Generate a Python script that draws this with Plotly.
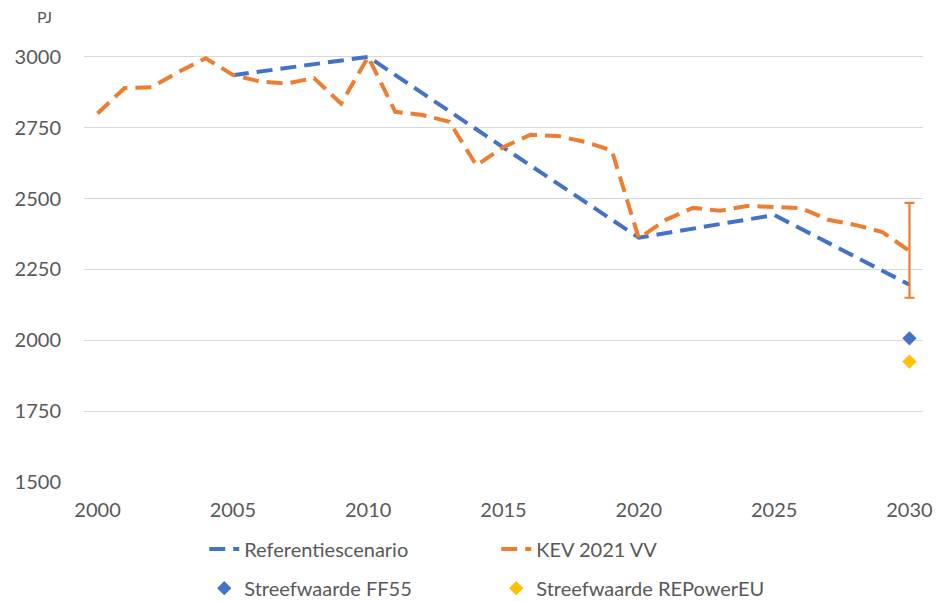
import plotly.graph_objects as go

years_kev = list(range(2000, 2031))
kev_2021_vv = [2800, 2890, 2893, 2947, 2995, 2936, 2913, 2906, 2925, 2835,
               3000, 2806, 2795, 2771, 2617, 2682, 2725, 2721, 2700, 2670,
               2360, 2425, 2467, 2457, 2474, 2470, 2466, 2425, 2407, 2382,
               2315]
kev_err_plus = 170
kev_err_minus = 165

years_ref = [2005, 2010, 2015, 2020, 2025, 2030]
referentiescenario = [2935, 3000, 2680, 2362, 2442, 2196]

target_year = [2030]
streefwaarde_ff55 = [2007]
streefwaarde_repowereu = [1925]

x_ticks = [2000, 2005, 2010, 2015, 2020, 2025, 2030]
y_ticks = [1500, 1750, 2000, 2250, 2500, 2750, 3000]

BLUE = "#4472C4"
ORANGE = "#ED7D31"
YELLOW = "#FFC000"
TXT = "#595959"
FONT = "Lato"
DASH = "16px,8px"

fig = go.Figure()

fig.add_trace(go.Scatter(
    x=years_ref, y=referentiescenario, mode="lines", name="Referentiescenario",
    line=dict(color=BLUE, width=4, dash=DASH), legend="legend"))
fig.add_trace(go.Scatter(
    x=years_kev, y=kev_2021_vv, mode="lines", name="KEV 2021 VV",
    line=dict(color=ORANGE, width=4, dash=DASH), legend="legend"))
fig.add_trace(go.Scatter(
    x=[years_kev[-1]], y=[kev_2021_vv[-1]], mode="markers", showlegend=False,
    marker=dict(size=1, color="rgba(0,0,0,0)"),
    error_y=dict(type="data", array=[kev_err_plus], arrayminus=[kev_err_minus],
                 color=ORANGE, thickness=2.2, width=5, symmetric=False)))
fig.add_trace(go.Scatter(
    x=target_year, y=streefwaarde_ff55, mode="markers", name="Streefwaarde FF55",
    marker=dict(symbol="diamond", size=11, color=BLUE), legend="legend2"))
fig.add_trace(go.Scatter(
    x=target_year, y=streefwaarde_repowereu, mode="markers", name="Streefwaarde REPowerEU",
    marker=dict(symbol="diamond", size=11, color=YELLOW), legend="legend2"))

legend_common = dict(orientation="h", xanchor="left", yanchor="middle",
                     font=dict(family=FONT, size=20, color=TXT),
                     entrywidth=247, entrywidthmode="pixels",
                     bgcolor="rgba(0,0,0,0)")

fig.update_layout(
    width=933, height=593,
    paper_bgcolor="white", plot_bgcolor="white",
    margin=dict(l=75.5, r=17.5, t=46, b=119, autoexpand=False),
    font=dict(family=FONT, size=20, color=TXT),
    xaxis=dict(range=[1999.5, 2030.5], tickvals=x_ticks, showgrid=False,
               zeroline=False, showline=False, ticks="",
               tickfont=dict(family=FONT, size=20, color=TXT),
               ticklabelstandoff=14),
    yaxis=dict(range=[1500, 3010], tickvals=y_ticks, showgrid=True,
               gridcolor="#D9D9D9", gridwidth=1, zeroline=False, showline=False,
               ticks="", tickfont=dict(family=FONT, size=20, color=TXT),
               ticklabelstandoff=22),
    legend=dict(x=0.1433, y=-0.1565, **legend_common),
    legend2=dict(x=0.1433, y=-0.248, **legend_common),
    annotations=[dict(text="PJ", xref="paper", yref="paper", x=-0.047, y=1.088,
                      xanchor="center", yanchor="middle", showarrow=False,
                      font=dict(family=FONT, size=16, color=TXT))],
)

fig.write_html("out.html")
